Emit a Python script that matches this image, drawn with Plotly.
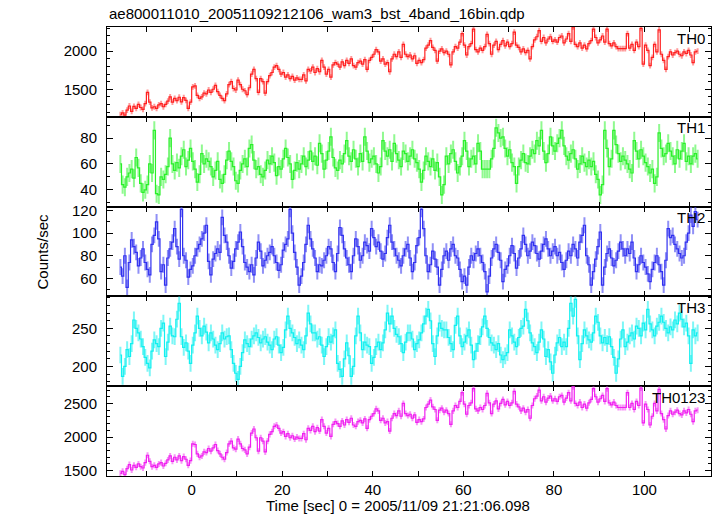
import plotly.graph_objects as go
from plotly.subplots import make_subplots

TITLE = "ae800011010_20051109212106_wam3_bst_4band_16bin.qdp"
X_TITLE = "Time [sec] 0 = 2005/11/09 21:21:06.098"
Y_TITLE = "Counts/sec"
BAND_NAMES = ["TH0", "TH1", "TH2", "TH3", "TH0123"]

TIME_START = -15.75   # centre of first bin (s)
BIN_WIDTH = 0.5       # s

TH0 = [
    1165, 1190, 1160, 1225, 1280, 1210, 1275, 1250, 1300, 1260, 1235, 1310, 1460, 1330, 1255, 1270,
    1250, 1295, 1310, 1270, 1300, 1345, 1400, 1330, 1380, 1350, 1395, 1335, 1390, 1355, 1250, 1330,
    1530, 1545, 1420, 1380, 1400, 1450, 1440, 1490, 1460, 1500, 1550, 1470, 1420, 1380, 1350, 1440,
    1560, 1600, 1510, 1490, 1620, 1560, 1500, 1480, 1430, 1520, 1700, 1760, 1640, 1460, 1640, 1600,
    1450, 1600, 1680, 1720, 1790, 1810, 1760, 1700, 1720, 1660, 1690, 1640, 1670, 1620, 1650, 1630,
    1630, 1690, 1610, 1760, 1740, 1790, 1720, 1770, 1730, 1880, 1790, 1700, 1760, 1660, 1820, 1850,
    1830, 1790, 1860, 1810, 1880, 1840, 1900, 1810, 1790, 1850, 1870, 1830, 1890, 1760, 1880, 1920,
    1960, 2020, 1990, 1870, 1900, 1830, 1850, 1730, 1900, 1960, 1930, 1990, 1920, 2090, 1960, 1930,
    1950, 1900, 1940, 1840, 1880, 1850, 1890, 2040, 2080, 2140, 2050, 2010, 1870, 2000, 2030, 1980,
    2000, 1960, 1820, 1990, 2060, 2040, 2120, 2230, 2080, 1950, 2060, 2100, 2290, 2020, 1990, 2040,
    2010, 2060, 2220, 2100, 1960, 2080, 2130, 2020, 2090, 2140, 2070, 2120, 2060, 2100, 2250, 2080,
    2050, 1990, 2030, 1980, 2010, 1900, 2060, 2150, 2190, 2270, 2130, 2180, 2110, 2160, 2190, 2130,
    2150, 2120, 2180, 2200, 2110, 2160, 2230, 2130, 2320, 2090, 2060, 2110, 2040, 2080, 2030, 2100,
    2140, 2290, 2180, 2110, 2150, 2200, 2120, 2290, 2100, 2070, 2110, 2060, 2035, 2035, 2035, 2035,
    2230, 2040, 2090, 2010, 2120, 2060, 2300, 1830, 2080, 2010, 1810, 1920, 2090, 1990, 2280, 1960,
    1880, 1760, 1930, 1990, 1950, 1980, 2000, 1960, 1940, 1990, 1970, 2010, 1950, 1850, 1990, 2000,
]

TH1 = [
    60, 44, 42, 50, 53, 56, 49, 65, 57, 45, 38, 40, 44, 60, 53, 86,
    37, 36, 50, 48, 52, 58, 80, 60, 55, 61, 57, 66, 71, 58, 63, 72,
    62, 56, 46, 52, 68, 60, 64, 62, 58, 50, 55, 62, 48, 45, 52, 63,
    70, 62, 58, 47, 45, 55, 60, 64, 58, 72, 75, 63, 56, 58, 52, 50,
    55, 63, 60, 66, 61, 51, 58, 56, 64, 72, 65, 60, 48, 55, 61, 56,
    60, 66, 58, 63, 70, 62, 66, 59, 76, 68, 56, 63, 70, 81, 65, 57,
    55, 63, 60, 68, 78, 66, 62, 71, 64, 58, 68, 62, 81, 70, 61, 64,
    66, 60, 53, 58, 78, 70, 66, 71, 62, 76, 68, 63, 58, 70, 68, 62,
    66, 71, 64, 61, 56, 46, 55, 66, 62, 58, 64, 55, 61, 50, 36, 44,
    66, 60, 68, 71, 62, 53, 58, 66, 78, 70, 58, 64, 66, 60, 76, 70,
    56, 56, 56, 56, 64, 72, 88, 84, 80, 81, 72, 66, 71, 61, 58, 45,
    58, 63, 68, 61, 60, 66, 71, 68, 78, 74, 86, 70, 61, 68, 81, 74,
    70, 76, 80, 86, 74, 66, 63, 68, 71, 64, 56, 60, 66, 61, 58, 63,
    58, 62, 52, 48, 36, 44, 86, 72, 58, 64, 86, 75, 68, 62, 66, 63,
    60, 56, 53, 78, 70, 64, 71, 66, 61, 58, 53, 56, 45, 50, 84, 72,
    66, 68, 76, 70, 66, 60, 71, 64, 70, 76, 62, 66, 60, 66, 68, 64,
]

TH2 = [
    70, 62, 80, 52, 74, 94, 88, 83, 71, 78, 86, 74, 68, 63, 90, 98,
    110, 95, 66, 72, 54, 78, 86, 92, 104, 88, 77, 121, 80, 76, 61, 68,
    71, 80, 86, 90, 95, 100, 107, 75, 63, 77, 82, 86, 83, 114, 98, 92,
    80, 69, 75, 86, 92, 101, 88, 74, 70, 66, 72, 63, 78, 92, 84, 71,
    76, 80, 83, 88, 80, 74, 67, 72, 85, 90, 95, 121, 100, 83, 70, 54,
    62, 74, 90, 107, 95, 86, 78, 66, 72, 71, 76, 80, 88, 86, 74, 66,
    82, 105, 98, 86, 78, 72, 66, 80, 95, 88, 76, 80, 92, 89, 84, 104,
    96, 88, 92, 84, 77, 82, 96, 107, 92, 86, 80, 76, 71, 80, 86, 90,
    78, 66, 74, 89, 96, 121, 104, 80, 66, 72, 84, 77, 70, 54, 68, 80,
    84, 76, 86, 90, 80, 78, 68, 57, 62, 54, 70, 80, 76, 82, 86, 80,
    74, 66, 48, 62, 78, 86, 90, 83, 76, 57, 68, 71, 80, 89, 82, 69,
    78, 86, 98, 90, 80, 84, 92, 89, 82, 77, 84, 90, 95, 86, 80, 84,
    88, 80, 83, 74, 68, 76, 84, 80, 90, 86, 78, 92, 98, 107, 80, 72,
    54, 66, 77, 88, 101, 54, 70, 82, 86, 78, 71, 76, 84, 92, 86, 80,
    86, 82, 92, 78, 66, 72, 80, 74, 70, 64, 57, 68, 74, 80, 72, 66,
    54, 76, 104, 96, 98, 90, 86, 82, 78, 80, 92, 100, 116, 106, 119, 112,
]

TH3 = [
    215, 187, 200, 222, 213, 230, 261, 250, 244, 236, 226, 212, 204, 198, 220, 235,
    230, 226, 250, 257, 213, 232, 253, 240, 239, 262, 283, 239, 225, 231, 220, 204,
    228, 244, 266, 250, 240, 253, 245, 231, 244, 236, 228, 222, 230, 244, 236, 239,
    240, 222, 204, 191, 183, 200, 218, 235, 230, 226, 236, 240, 244, 238, 231, 236,
    239, 232, 228, 222, 236, 239, 228, 218, 225, 248, 266, 250, 244, 238, 230, 235,
    228, 222, 240, 270, 256, 244, 244, 236, 239, 228, 213, 226, 239, 232, 240, 248,
    204, 196, 187, 210, 231, 214, 187, 200, 240, 266, 244, 222, 232, 228, 226, 204,
    212, 226, 232, 222, 231, 248, 270, 256, 266, 250, 242, 239, 230, 218, 232, 244,
    244, 236, 222, 230, 235, 244, 256, 266, 275, 260, 230, 213, 240, 257, 250, 248,
    248, 238, 230, 222, 254, 266, 240, 226, 232, 240, 248, 228, 209, 220, 230, 239,
    252, 266, 250, 238, 231, 228, 222, 230, 215, 209, 214, 218, 248, 240, 232, 226,
    238, 250, 253, 275, 260, 244, 231, 226, 218, 232, 248, 236, 213, 222, 206, 191,
    215, 231, 238, 226, 232, 226, 250, 283, 266, 288, 240, 209, 230, 248, 240, 235,
    232, 244, 266, 258, 240, 231, 238, 230, 239, 226, 212, 191, 210, 236, 248, 226,
    232, 240, 244, 236, 253, 250, 240, 257, 248, 275, 256, 248, 240, 253, 258, 266,
    258, 250, 244, 252, 248, 261, 256, 270, 262, 252, 257, 240, 204, 248, 240, 244,
]

TH0123 = [
    1460, 1490, 1440, 1530, 1590, 1510, 1580, 1550, 1600, 1560, 1540, 1620, 1730, 1640, 1560, 1580,
    1550, 1600, 1620, 1570, 1610, 1660, 1720, 1640, 1700, 1660, 1720, 1650, 1710, 1670, 1580, 1650,
    1900, 1890, 1750, 1700, 1720, 1780, 1770, 1830, 1790, 1840, 1890, 1800, 1750, 1700, 1670, 1770,
    1900, 1940, 1840, 1820, 1970, 1900, 1830, 1810, 1750, 1850, 2060, 2120, 1990, 1790, 1990, 1940,
    1780, 1940, 2040, 2080, 2160, 2180, 2130, 2060, 2080, 2010, 2050, 1990, 2020, 1970, 2000, 1980,
    1980, 2050, 1960, 2130, 2100, 2160, 2080, 2140, 2090, 2260, 2160, 2060, 2130, 2010, 2190, 2230,
    2200, 2160, 2240, 2180, 2260, 2220, 2280, 2180, 2160, 2230, 2250, 2210, 2270, 2130, 2260, 2310,
    2350, 2420, 2390, 2250, 2280, 2210, 2230, 2090, 2280, 2350, 2320, 2390, 2310, 2500, 2350, 2320,
    2340, 2280, 2330, 2220, 2260, 2230, 2270, 2440, 2490, 2550, 2450, 2410, 2250, 2400, 2430, 2370,
    2400, 2350, 2190, 2390, 2470, 2440, 2530, 2660, 2490, 2340, 2470, 2510, 2720, 2420, 2390, 2440,
    2410, 2470, 2650, 2510, 2350, 2490, 2540, 2420, 2500, 2560, 2480, 2530, 2470, 2510, 2680, 2490,
    2450, 2390, 2430, 2370, 2410, 2280, 2470, 2570, 2610, 2700, 2540, 2600, 2520, 2580, 2610, 2540,
    2570, 2530, 2600, 2620, 2520, 2580, 2660, 2540, 2750, 2500, 2470, 2520, 2440, 2490, 2430, 2510,
    2560, 2720, 2600, 2520, 2570, 2620, 2530, 2720, 2510, 2480, 2520, 2470, 2440, 2440, 2440, 2440,
    2660, 2440, 2500, 2410, 2530, 2470, 2730, 2210, 2490, 2410, 2180, 2310, 2500, 2390, 2710, 2350,
    2260, 2120, 2320, 2390, 2340, 2370, 2400, 2350, 2330, 2390, 2360, 2410, 2340, 2230, 2390, 2400,
]

ERRORS = [38, 7, 7, 11, 45]

SERIES = [TH0, TH1, TH2, TH3, TH0123]
LINE_COLORS = ["#ff2020", "#2af02a", "#3030f0", "#10f0f0", "#f020f0"]
ERR_COLORS = ["rgba(255,70,70,0.55)", "rgba(70,245,70,0.6)", "rgba(70,70,240,0.6)",
              "rgba(40,240,240,0.6)", "rgba(240,60,240,0.55)"]
Y_RANGES = [[1138, 2318], [27, 96.5], [44, 123.5], [174, 292], [1421, 2757]]
Y_DTICK = [500, 20, 20, 50, 500]
Y_MINOR = [100, 10, 10, 10, 100]

FONT = "Liberation Sans, Arial, Helvetica, sans-serif"

times = [TIME_START + BIN_WIDTH * i for i in range(len(TH0))]

fig = make_subplots(rows=5, cols=1, shared_xaxes=True, vertical_spacing=0)

for k, vals in enumerate(SERIES):
    fig.add_trace(go.Scatter(
        x=times, y=vals, mode="lines",
        line=dict(color=LINE_COLORS[k], width=1.2, shape="hvh"),
        error_y=dict(type="constant", value=ERRORS[k], color=ERR_COLORS[k],
                     thickness=2, width=0),
        showlegend=False, hoverinfo="skip",
    ), row=k + 1, col=1)

    fig.update_yaxes(
        range=Y_RANGES[k], dtick=Y_DTICK[k], tick0=0,
        ticks="inside", ticklen=6, tickcolor="black", tickwidth=1,
        minor=dict(dtick=Y_MINOR[k], ticks="inside", ticklen=3, tickcolor="black", tickwidth=1),
        showline=True, linecolor="black", linewidth=1, mirror="ticks",
        showgrid=False, zeroline=False,
        tickfont=dict(family=FONT, size=15, color="black"),
        ticklabelstandoff=6,
        row=k + 1, col=1)
    fig.update_xaxes(
        range=[-18.7, 114.7], dtick=20, tick0=0,
        ticks="inside", ticklen=5, tickcolor="black", tickwidth=1,
        minor=dict(dtick=10, ticks="inside", ticklen=5, tickcolor="black", tickwidth=1),
        showline=True, linecolor="black", linewidth=1, mirror="ticks",
        showgrid=False, zeroline=False,
        tickfont=dict(family=FONT, size=15, color="black"),
        row=k + 1, col=1)

annotations = [
    dict(text=TITLE, xref="paper", yref="paper", x=0, y=1 + 14 / 449,
         xanchor="left", yanchor="middle", showarrow=False,
         font=dict(family=FONT, size=15, color="black")),
    dict(text=X_TITLE, xref="paper", yref="paper", x=(398 - 107) / 604, y=-30 / 449,
         xanchor="center", yanchor="middle", showarrow=False,
         font=dict(family=FONT, size=15, color="black")),
    dict(text=Y_TITLE, xref="paper", yref="paper", x=(42 - 107) / 604, y=0.5,
         xanchor="center", yanchor="middle", showarrow=False, textangle=-90,
         font=dict(family=FONT, size=15, color="black")),
]
for k, name in enumerate(BAND_NAMES):
    annotations.append(dict(
        text=name, xref="paper", yref="paper", x=(707 - 107) / 604,
        y=1 - 0.2 * k - 11 / 449, xanchor="right", yanchor="middle", showarrow=False,
        font=dict(family=FONT, size=15, color="black")))

fig.update_layout(
    width=717, height=516,
    margin=dict(l=107, r=6, t=27, b=40),
    paper_bgcolor="white", plot_bgcolor="white",
    annotations=annotations,
    font=dict(family=FONT, size=15, color="black"),
)

# remove the default 8px page margin so the figure sits at the window's top-left corner
fig.write_html("out.html",
               config={"displayModeBar": False, "staticPlot": True},
               post_script="document.body.style.margin='0';document.body.style.overflow='hidden';")
